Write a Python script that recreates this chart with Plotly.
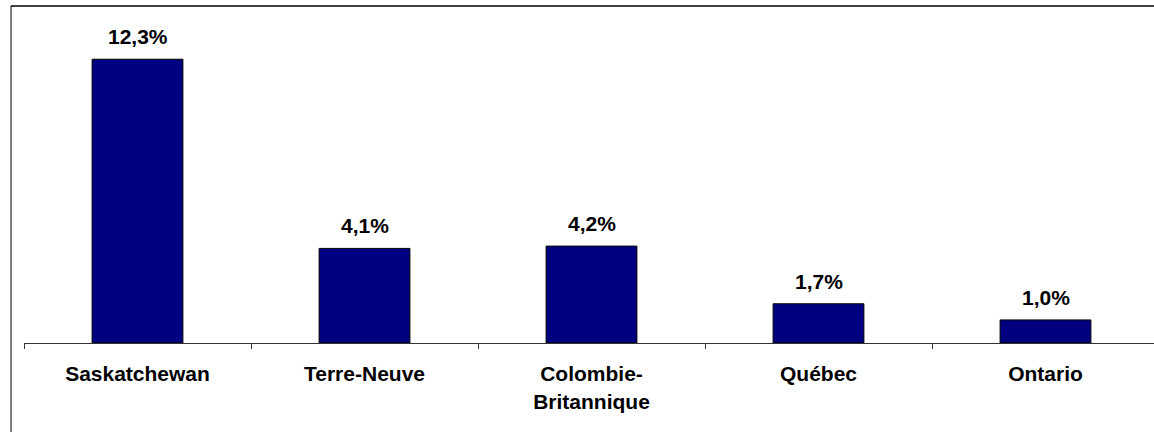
import plotly.graph_objects as go

categories = ["Saskatchewan", "Terre-Neuve", "Colombie-<br>Britannique", "Québec", "Ontario"]
values = [12.3, 4.1, 4.2, 1.7, 1.0]
value_labels = ["12,3%", "4,1%", "4,2%", "1,7%", "1,0%"]

FONT = "Liberation Sans, Arial, sans-serif"

fig = go.Figure()
fig.add_trace(go.Bar(
    x=categories, y=values,
    marker=dict(color="#000080", line=dict(color="#000000", width=1)),
    width=0.4,
    hoverinfo="skip",
))

for c, v, t in zip(categories, values, value_labels):
    fig.add_annotation(x=c, y=v, text="<b>" + t + "</b>", showarrow=False,
                       yanchor="bottom", yshift=9,
                       font=dict(family=FONT, size=21, color="#000000"))

# chart-area frame: only its top and left edges fall inside the picture
fig.add_shape(type="line", xref="paper", yref="paper",
              x0=-0.0115, x1=1.0, y0=1.0433, y1=1.0433,
              line=dict(color="#000000", width=1.5), layer="below")
fig.add_shape(type="line", xref="paper", yref="paper",
              x0=-0.0115, x1=-0.0115, y0=-0.3, y1=1.0433,
              line=dict(color="#000000", width=1), layer="below")

W = 1154
fig.update_layout(
    width=W, height=432,
    margin=dict(l=24, r=0, t=20, b=89),
    paper_bgcolor="white", plot_bgcolor="white",
    showlegend=False,
    font=dict(family=FONT, size=21, color="#000000"),
    xaxis=dict(
        type="category",
        range=[-0.5, -0.5 + (W - 24) / 227],
        showline=True, linecolor="#333333", linewidth=1,
        ticks="outside", ticklen=5, tickcolor="#333333", tickwidth=1,
        tickson="boundaries",
        showgrid=False, zeroline=False,
        tickmode="array", tickvals=categories,
        ticktext=["<b>" + c + "</b>" for c in categories],
        tickfont=dict(family=FONT, size=21, color="#000000"),
        ticklabelstandoff=12,
    ),
    yaxis=dict(range=[0, 14], visible=False, showgrid=False, zeroline=False),
)

fig.write_html(
    "out.html",
    config={"displayModeBar": False},
    post_script=(
        "document.documentElement.style.overflow='hidden';"
        "document.body.style.margin='0';"
        "document.body.style.overflow='hidden';"
    ),
)
